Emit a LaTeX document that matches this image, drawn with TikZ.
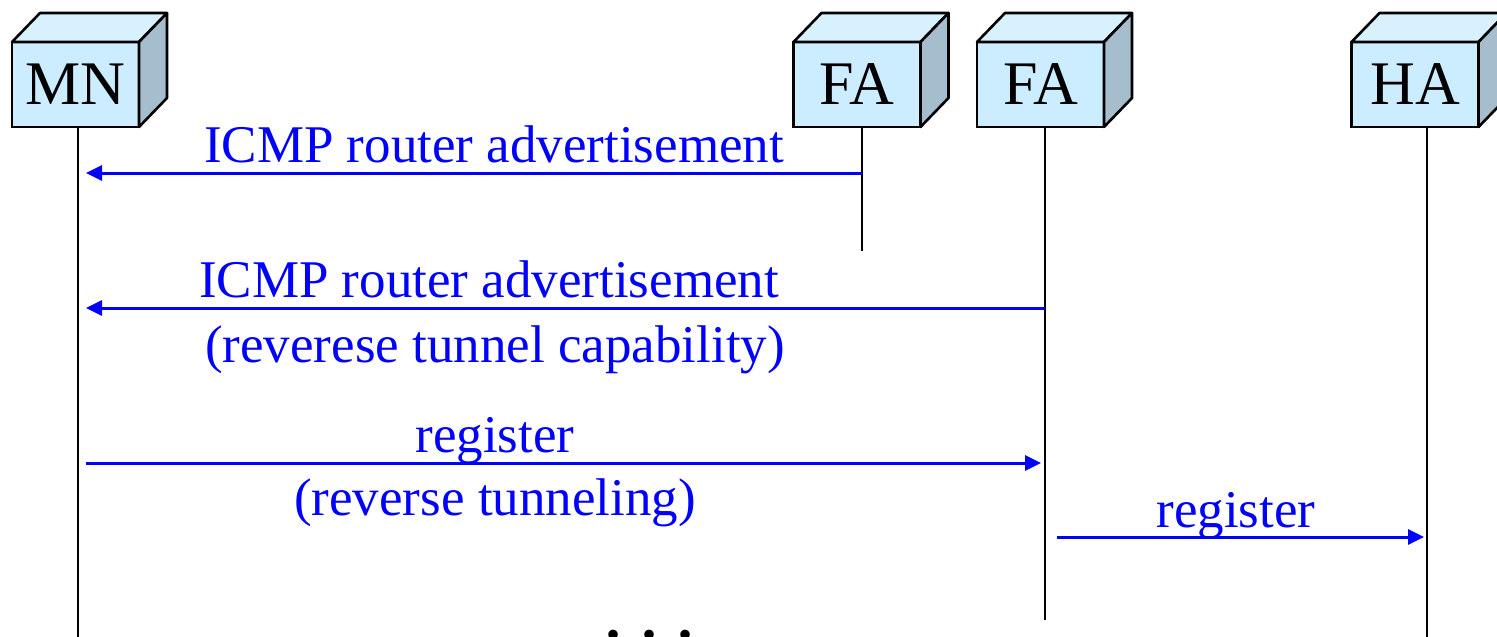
\documentclass[tikz,border=0pt]{standalone}
\usepackage{fontspec}
\setmainfont{Liberation Serif}
\usetikzlibrary{arrows.meta}
\definecolor{boxfront}{RGB}{204,236,255}
\definecolor{boxtop}{RGB}{216,241,255}
\definecolor{boxside}{RGB}{165,189,204}
\begin{document}
\begin{tikzpicture}[x=1pt,y=-1pt,
  entity/.style={draw=black, line width=2.6pt, fill=boxfront, outer sep=0pt,
    minimum width=127pt, minimum height=85pt, inner sep=0pt,
    font=\fontsize{62}{64}\selectfont},
  face/.style={draw=black, line width=2.6pt, line join=round},
  lifeline/.style={draw=black, line width=2.6pt},
  msg/.style={draw=blue, line width=3pt, -{Triangle[length=16pt,width=15pt]}},
  msglabel/.style={text=blue, anchor=base, inner sep=0pt,
    font=\fontsize{53}{57}\selectfont}]
\useasboundingbox (0,0) rectangle (1497,637);

% entities (front faces)
\node[entity] (mn)  at (75.5,84.5)  {MN};
\node[entity] (fa1) at (857,84.5)   {FA};
\node[entity] (fa2) at (1040.5,84.5){FA};
\node[entity] (ha)  at (1415,84.5)  {HA};

% top and side faces of the cubes
\foreach \n in {mn,fa1,fa2,ha}{
  \filldraw[face, fill=boxtop] (\n.north west) -- ++(28,-29) -- ++(127,0)
    -- (\n.north east) -- cycle;
  \filldraw[face, fill=boxside] (\n.north east) -- ++(28,-29) -- ++(0,85)
    -- (\n.south east) -- cycle;
}

% lifelines
\coordinate (mn-end)  at (78,645);
\coordinate (fa1-end) at (862,251);
\coordinate (fa2-end) at (1045,620);
\coordinate (ha-end)  at (1427,645);
\draw[lifeline] (mn-end |- mn.south)   -- (mn-end);
\draw[lifeline] (fa1-end |- fa1.south) -- (fa1-end);
\draw[lifeline] (fa2-end |- fa2.south) -- (fa2-end);
\draw[lifeline] (ha-end |- ha.south)   -- (ha-end);

% message end points
\coordinate (m1s) at (862,173);  \coordinate (m1e) at (86,173);
\coordinate (m2s) at (1045,308); \coordinate (m2e) at (86,308);
\coordinate (m3s) at (86,463);   \coordinate (m3e) at (1041,463);
\coordinate (m4s) at (1057,537); \coordinate (m4e) at (1424,537);

% messages
\draw[msg] (m1s) -- (m1e);
\draw[msg] (m2s) -- (m2e);
\draw[msg] (m3s) -- (m3e);
\draw[msg] (m4s) -- (m4e);

% message labels
\node[msglabel] (l1)  at (494,162)  {ICMP router advertisement};
\node[msglabel] (l2)  at (489,297)  {ICMP router advertisement};
\node[msglabel] (l2b) at (495,362)  {(reverese tunnel capability)};
\node[msglabel] (l3)  at (495,452)  {register};
\node[msglabel] (l3b) at (495,515)  {(reverse tunneling)};
\node[msglabel] (l4)  at (1236,527) {register};

% continuation dots
\node[anchor=base, inner sep=0pt, font=\fontsize{80}{84}\selectfont]
  (more) at (649,638) {.\kern16pt.\kern16pt.};
\end{tikzpicture}
\end{document}
